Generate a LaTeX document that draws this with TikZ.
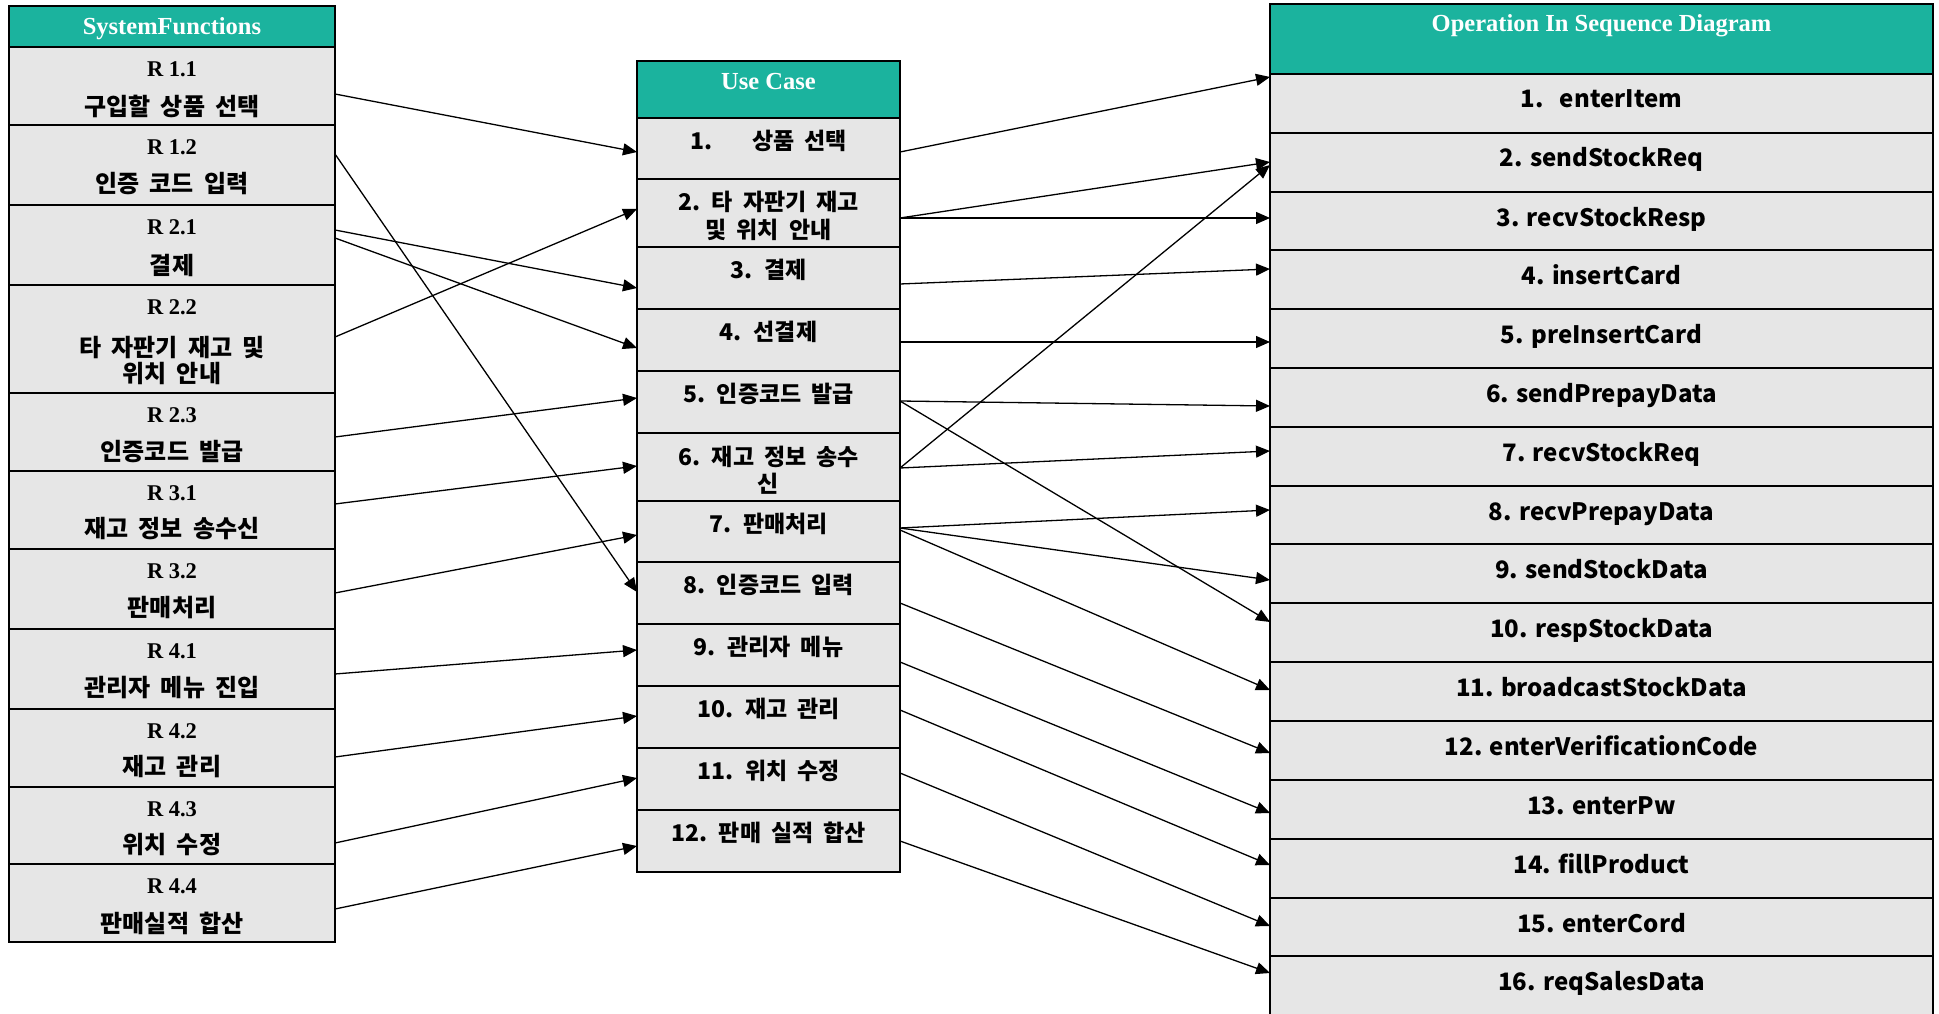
\documentclass[tikz,border=0pt]{standalone}
\usepackage{fontspec}
\setmainfont{Liberation Serif}
\newfontfamily\kr{Noto Sans CJK KR}
\newcommand{\krsp}{\spaceskip 10pt plus 2pt minus 1pt\relax}
\usetikzlibrary{arrows.meta}
\definecolor{hdr}{RGB}{27,179,158}
\definecolor{cellgray}{RGB}{230,230,230}
\tikzset{
  boxcell/.style={draw=black, line width=2.4pt, rectangle, inner sep=0pt, outer sep=0pt},
  hdrtxt/.style={font=\fontsize{24.5}{26}\selectfont\bfseries, text=white, anchor=base, inner sep=0pt},
  rtxt/.style={font=\fontsize{22.5}{24}\selectfont\bfseries, inner sep=0pt},
  kltxt/.style={font=\kr\fontsize{24}{26}\selectfont\bfseries\krsp, inner sep=0pt, align=center},
  mtxt/.style={font=\kr\fontsize{23}{27.5}\selectfont\bfseries\krsp, inner sep=0pt, align=center},
  otxt/.style={font=\kr\fontsize{24}{27}\selectfont\bfseries, inner sep=0pt, anchor=base},
  arr/.style={-{Triangle[length=14pt,width=12pt]}, line width=1.3pt},
}
\newcommand{\mkbox}[6]{%
  \node[boxcell, fill=#6, minimum width={(#4)-(#2)}, minimum height={(#5)-(#3)}] (#1) at ({((#2)+(#4))/2},{((#3)+(#5))/2}) {};}
\begin{document}
\begin{tikzpicture}[x=1pt,y=-1pt]
\useasboundingbox (0,0) rectangle (1939,1014);
\fill[white] (0,0) rectangle (1939,1014);
\clip (0,0) rectangle (1939,1014);
% ---------- left column
\mkbox{sfh}{9}{6}{335}{47}{hdr}
\mkbox{r11}{9}{47}{335}{125}{cellgray}
\mkbox{r12}{9}{125}{335}{205}{cellgray}
\mkbox{r21}{9}{205}{335}{285}{cellgray}
\mkbox{r22}{9}{285}{335}{393}{cellgray}
\mkbox{r23}{9}{393}{335}{471}{cellgray}
\mkbox{r31}{9}{471}{335}{549}{cellgray}
\mkbox{r32}{9}{549}{335}{629}{cellgray}
\mkbox{r41}{9}{629}{335}{709}{cellgray}
\mkbox{r42}{9}{709}{335}{787}{cellgray}
\mkbox{r43}{9}{787}{335}{864}{cellgray}
\mkbox{r44}{9}{864}{335}{942}{cellgray}
\node[hdrtxt] (sfht) at (172,35) {SystemFunctions};
\node[rtxt] (r11a) at ([yshift=-22pt]r11.north) {R 1.1};
\node[kltxt] (r11b) at ([yshift=-59pt]r11.north) {구입할 상품 선택};
\node[rtxt] (r12a) at ([yshift=-22pt]r12.north) {R 1.2};
\node[kltxt] (r12b) at ([yshift=-59pt]r12.north) {인증 코드 입력};
\node[rtxt] (r21a) at ([yshift=-22pt]r21.north) {R 2.1};
\node[kltxt] (r21b) at ([yshift=-60pt]r21.north) {결제};
\node[rtxt] (r22a) at ([yshift=-22pt]r22.north) {R 2.2};
\node[kltxt] (r22b) at ([yshift=-75pt]r22.north) {타 자판기 재고 및\\위치 안내};
\node[rtxt] (r23a) at ([yshift=-22pt]r23.north) {R 2.3};
\node[kltxt] (r23b) at ([yshift=-59pt]r23.north) {인증코드 발급};
\node[rtxt] (r31a) at ([yshift=-22pt]r31.north) {R 3.1};
\node[kltxt] (r31b) at ([yshift=-58pt]r31.north) {재고 정보 송수신};
\node[rtxt] (r32a) at ([yshift=-22pt]r32.north) {R 3.2};
\node[kltxt] (r32b) at ([yshift=-59pt]r32.north) {판매처리};
\node[rtxt] (r41a) at ([yshift=-22pt]r41.north) {R 4.1};
\node[kltxt] (r41b) at ([yshift=-59pt]r41.north) {관리자 메뉴 진입};
\node[rtxt] (r42a) at ([yshift=-22pt]r42.north) {R 4.2};
\node[kltxt] (r42b) at ([yshift=-58pt]r42.north) {재고 관리};
\node[rtxt] (r43a) at ([yshift=-22pt]r43.north) {R 4.3};
\node[kltxt] (r43b) at ([yshift=-58pt]r43.north) {위치 수정};
\node[rtxt] (r44a) at ([yshift=-22pt]r44.north) {R 4.4};
\node[kltxt] (r44b) at ([yshift=-59pt]r44.north) {판매실적 합산};
% ---------- middle column
\mkbox{uch}{637}{61}{900}{118}{hdr}
\mkbox{u1}{637}{118}{900}{179}{cellgray}
\mkbox{u2}{637}{179}{900}{247}{cellgray}
\mkbox{u3}{637}{247}{900}{309}{cellgray}
\mkbox{u4}{637}{309}{900}{371}{cellgray}
\mkbox{u5}{637}{371}{900}{433}{cellgray}
\mkbox{u6}{637}{433}{900}{501}{cellgray}
\mkbox{u7}{637}{501}{900}{562}{cellgray}
\mkbox{u8}{637}{562}{900}{624}{cellgray}
\mkbox{u9}{637}{624}{900}{686}{cellgray}
\mkbox{u10}{637}{686}{900}{748}{cellgray}
\mkbox{u11}{637}{748}{900}{810}{cellgray}
\mkbox{u12}{637}{810}{900}{872}{cellgray}
\node[hdrtxt] (ucht) at (768.5,90) {Use Case};
\node[mtxt] (u1t) at ([yshift=-23pt]u1.north) {1.\hspace{40pt}상품 선택};
\node[mtxt] (u2t) at ([yshift=-37pt]u2.north) {2. 타 자판기 재고\\및 위치 안내};
\node[mtxt] (u3t) at ([yshift=-23pt]u3.north) {3. 결제};
\node[mtxt] (u4t) at ([yshift=-23pt]u4.north) {4. 선결제};
\node[mtxt] (u5t) at ([yshift=-23pt]u5.north) {5. 인증코드 발급};
\node[mtxt] (u6t) at ([yshift=-37pt]u6.north) {6. 재고 정보 송수\\신};
\node[mtxt] (u7t) at ([yshift=-23pt]u7.north) {7. 판매처리};
\node[mtxt] (u8t) at ([yshift=-23pt]u8.north) {8. 인증코드 입력};
\node[mtxt] (u9t) at ([yshift=-23pt]u9.north) {9. 관리자 메뉴};
\node[mtxt] (u10t) at ([yshift=-23pt]u10.north) {10. 재고 관리};
\node[mtxt] (u11t) at ([yshift=-23pt]u11.north) {11. 위치 수정};
\node[mtxt] (u12t) at ([yshift=-23pt]u12.north) {12. 판매 실적 합산};
% ---------- right column
\mkbox{osh}{1270}{4}{1933}{74}{hdr}
\mkbox{o1}{1270}{74}{1933}{133}{cellgray}
\mkbox{o2}{1270}{133}{1933}{192}{cellgray}
\mkbox{o3}{1270}{192}{1933}{250}{cellgray}
\mkbox{o4}{1270}{250}{1933}{309}{cellgray}
\mkbox{o5}{1270}{309}{1933}{368}{cellgray}
\mkbox{o6}{1270}{368}{1933}{427}{cellgray}
\mkbox{o7}{1270}{427}{1933}{486}{cellgray}
\mkbox{o8}{1270}{486}{1933}{544}{cellgray}
\mkbox{o9}{1270}{544}{1933}{603}{cellgray}
\mkbox{o10}{1270}{603}{1933}{662}{cellgray}
\mkbox{o11}{1270}{662}{1933}{721}{cellgray}
\mkbox{o12}{1270}{721}{1933}{780}{cellgray}
\mkbox{o13}{1270}{780}{1933}{839}{cellgray}
\mkbox{o14}{1270}{839}{1933}{898}{cellgray}
\mkbox{o15}{1270}{898}{1933}{956}{cellgray}
\mkbox{o16}{1270}{956}{1933}{1022}{cellgray}
\node[hdrtxt] (osht) at (1601.5,32) {Operation In Sequence Diagram};
\node[otxt] (o1t) at ([yshift=-34pt]o1.north) {1.\hspace{16pt}enterItem};
\node[otxt] (o2t) at ([yshift=-34pt]o2.north) {2. sendStockReq};
\node[otxt] (o3t) at ([yshift=-34pt]o3.north) {3. recvStockResp};
\node[otxt] (o4t) at ([yshift=-34pt]o4.north) {4. insertCard};
\node[otxt] (o5t) at ([yshift=-34pt]o5.north) {5. preInsertCard};
\node[otxt] (o6t) at ([yshift=-34pt]o6.north) {6. sendPrepayData};
\node[otxt] (o7t) at ([yshift=-34pt]o7.north) {7. recvStockReq};
\node[otxt] (o8t) at ([yshift=-34pt]o8.north) {8. recvPrepayData};
\node[otxt] (o9t) at ([yshift=-34pt]o9.north) {9. sendStockData};
\node[otxt] (o10t) at ([yshift=-34pt]o10.north) {10. respStockData};
\node[otxt] (o11t) at ([yshift=-34pt]o11.north) {11. broadcastStockData};
\node[otxt] (o12t) at ([yshift=-34pt]o12.north) {12. enterVerificationCode};
\node[otxt] (o13t) at ([yshift=-34pt]o13.north) {13. enterPw};
\node[otxt] (o14t) at ([yshift=-34pt]o14.north) {14. fillProduct};
\node[otxt] (o15t) at ([yshift=-34pt]o15.north) {15. enterCord};
\node[otxt] (o16t) at ([yshift=-34pt]o16.north) {16. reqSalesData};
% ---------- connectors left -> middle
\draw[arr] ([yshift=-47pt]r11.north east) -- ([yshift=-34pt]u1.north west);
\draw[arr] ([yshift=-29pt]r12.north east) -- ([yshift=-30pt]u8.north west);
\draw[arr] ([yshift=-25pt]r21.north east) -- ([yshift=-41pt]u3.north west);
\draw[arr] ([yshift=-33pt]r21.north east) -- ([yshift=-39pt]u4.north west);
\draw[arr] ([yshift=-52pt]r22.north east) -- ([yshift=-30pt]u2.north west);
\draw[arr] ([yshift=-44pt]r23.north east) -- ([yshift=-27pt]u5.north west);
\draw[arr] ([yshift=-33pt]r31.north east) -- ([yshift=-33pt]u6.north west);
\draw[arr] ([yshift=-44pt]r32.north east) -- ([yshift=-34pt]u7.north west);
\draw[arr] ([yshift=-45pt]r41.north east) -- ([yshift=-26pt]u9.north west);
\draw[arr] ([yshift=-48pt]r42.north east) -- ([yshift=-30pt]u10.north west);
\draw[arr] ([yshift=-56pt]r43.north east) -- ([yshift=-30pt]u11.north west);
\draw[arr] ([yshift=-45pt]r44.north east) -- ([yshift=-36pt]u12.north west);
% ---------- connectors middle -> right
\draw[arr] ([yshift=-34pt]u1.north east) -- ([yshift=-3pt]o1.north west);
\draw[arr] ([yshift=-39pt]u2.north east) -- ([yshift=-29pt]o2.north west);
\draw[arr] ([yshift=-39pt]u2.north east) -- ([yshift=-26pt]o3.north west);
\draw[arr] ([yshift=-37pt]u3.north east) -- ([yshift=-19pt]o4.north west);
\draw[arr] ([yshift=-33pt]u4.north east) -- ([yshift=-33pt]o5.north west);
\draw[arr] ([yshift=-30pt]u5.north east) -- ([yshift=-38pt]o6.north west);
\draw[arr] ([yshift=-30pt]u5.north east) -- ([yshift=-19pt]o10.north west);
\draw[arr] ([yshift=-35pt]u6.north east) -- ([yshift=-32pt]o2.north west);
\draw[arr] ([yshift=-35pt]u6.north east) -- ([yshift=-24pt]o7.north west);
\draw[arr] ([yshift=-27pt]u7.north east) -- ([yshift=-24pt]o8.north west);
\draw[arr] ([yshift=-27pt]u7.north east) -- ([yshift=-36pt]o9.north west);
\draw[arr] ([yshift=-29pt]u7.north east) -- ([yshift=-28pt]o11.north west);
\draw[arr] ([yshift=-41pt]u8.north east) -- ([yshift=-32pt]o12.north west);
\draw[arr] ([yshift=-38pt]u9.north east) -- ([yshift=-33pt]o13.north west);
\draw[arr] ([yshift=-24pt]u10.north east) -- ([yshift=-26pt]o14.north west);
\draw[arr] ([yshift=-25pt]u11.north east) -- ([yshift=-28pt]o15.north west);
\draw[arr] ([yshift=-31pt]u12.north east) -- ([yshift=-17pt]o16.north west);
\end{tikzpicture}
\end{document}
